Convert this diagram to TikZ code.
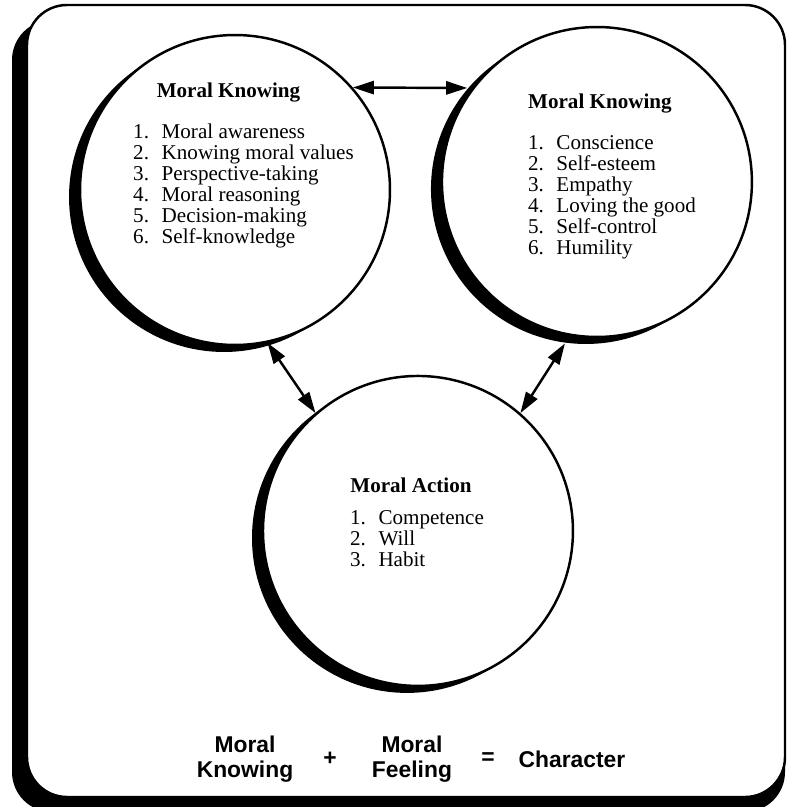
\documentclass[tikz,border=0pt]{standalone}
\usepackage{fontspec}
\setmainfont{Liberation Serif}
\newfontfamily\sumfont{Liberation Sans}
\usetikzlibrary{arrows.meta, positioning, shadows}

\newcommand{\lnum}[1]{\makebox[1.35em][l]{#1}}

\begin{document}
\begin{tikzpicture}[x=0.02cm, y=-0.02cm]
    \tikzstyle{circ} = [circle, draw, line width=1.4pt, fill=white,
        minimum size=6.2cm, inner sep=0pt,
        drop shadow={shadow xshift=-0.22cm, shadow yshift=-0.14cm, opacity=1, fill=black}]
    \tikzstyle{headtext} = [font=\fontsize{12}{12}\selectfont\bfseries]
    \tikzstyle{items} = [align=left, font=\fontsize{12}{11.95}\selectfont]
    \tikzstyle{sumtext} = [align=center, font=\fontsize{13}{14.2}\selectfont\sumfont\bfseries]
    \tikzstyle{link} = [draw, line width=1.4pt, >={Triangle[length=12pt,width=7.5pt]}, <->]

    % frame with its shadow
    \useasboundingbox (0,0) rectangle (787,807);
    \fill [rounded corners=0.8cm] (12,20) rectangle (785,812);
    \draw [line width=1.4pt, fill=white, rounded corners=0.8cm] (27,5) rectangle (785,797);

    \node [circ] (know) at (235,190) {};
    \node [circ, right of=know, node distance=7.24cm, yshift=0.16cm] (feel) {};
    \coordinate [below of=know, node distance=6.82cm] (mid);
    \node [circ, right of=mid, node distance=3.66cm] (act) {};
    %
    \node [headtext, above of=know, node distance=1.96cm, xshift=-0.13cm] (know-head) {Moral Knowing};
    \node [items, below of=know-head, node distance=1.87cm, xshift=0.3cm] (know-list)
        {\lnum{1.}Moral awareness\\ \lnum{2.}Knowing moral values\\ \lnum{3.}Perspective-taking\\
         \lnum{4.}Moral reasoning\\ \lnum{5.}Decision-making\\ \lnum{6.}Self-knowledge};
    %
    \node [headtext, above of=feel, node distance=1.58cm, xshift=0.06cm] (feel-head) {Moral Knowing};
    \node [items, below of=feel-head, node distance=1.89cm, xshift=0.24cm] (feel-list)
        {\lnum{1.}Conscience\\ \lnum{2.}Self-esteem\\ \lnum{3.}Empathy\\
         \lnum{4.}Loving the good\\ \lnum{5.}Self-control\\ \lnum{6.}Humility};
    %
    \node [headtext, above of=act, node distance=0.92cm, xshift=-0.14cm] (act-head) {Moral Action};
    \node [items, below of=act-head, node distance=1.08cm, xshift=0.12cm] (act-list)
        {\lnum{1.}Competence\\ \lnum{2.}Will\\ \lnum{3.}Habit};

    \path [link, shorten >=0.1cm] (know.41) -- (feel.143);
    \path [link] (know.282) -- (act.131);
    \path [link, shorten <=0.18cm] (feel.260) -- (act.49);

    % the sum along the bottom
    \coordinate [below of=act, node distance=4.56cm] (base);
    \node [sumtext, left of=base, node distance=3.46cm] (sum-know) {Moral\\Knowing};
    \node [sumtext, right of=sum-know, node distance=1.7cm] (plus) {+};
    \node [sumtext, right of=plus, node distance=1.64cm] (sum-feel) {Moral\\Feeling};
    \node [sumtext, right of=sum-feel, node distance=1.52cm] (equals) {=};
    \node [sumtext, right of=equals, node distance=1.68cm] (charac) {Character};

\end{tikzpicture}
\end{document}
